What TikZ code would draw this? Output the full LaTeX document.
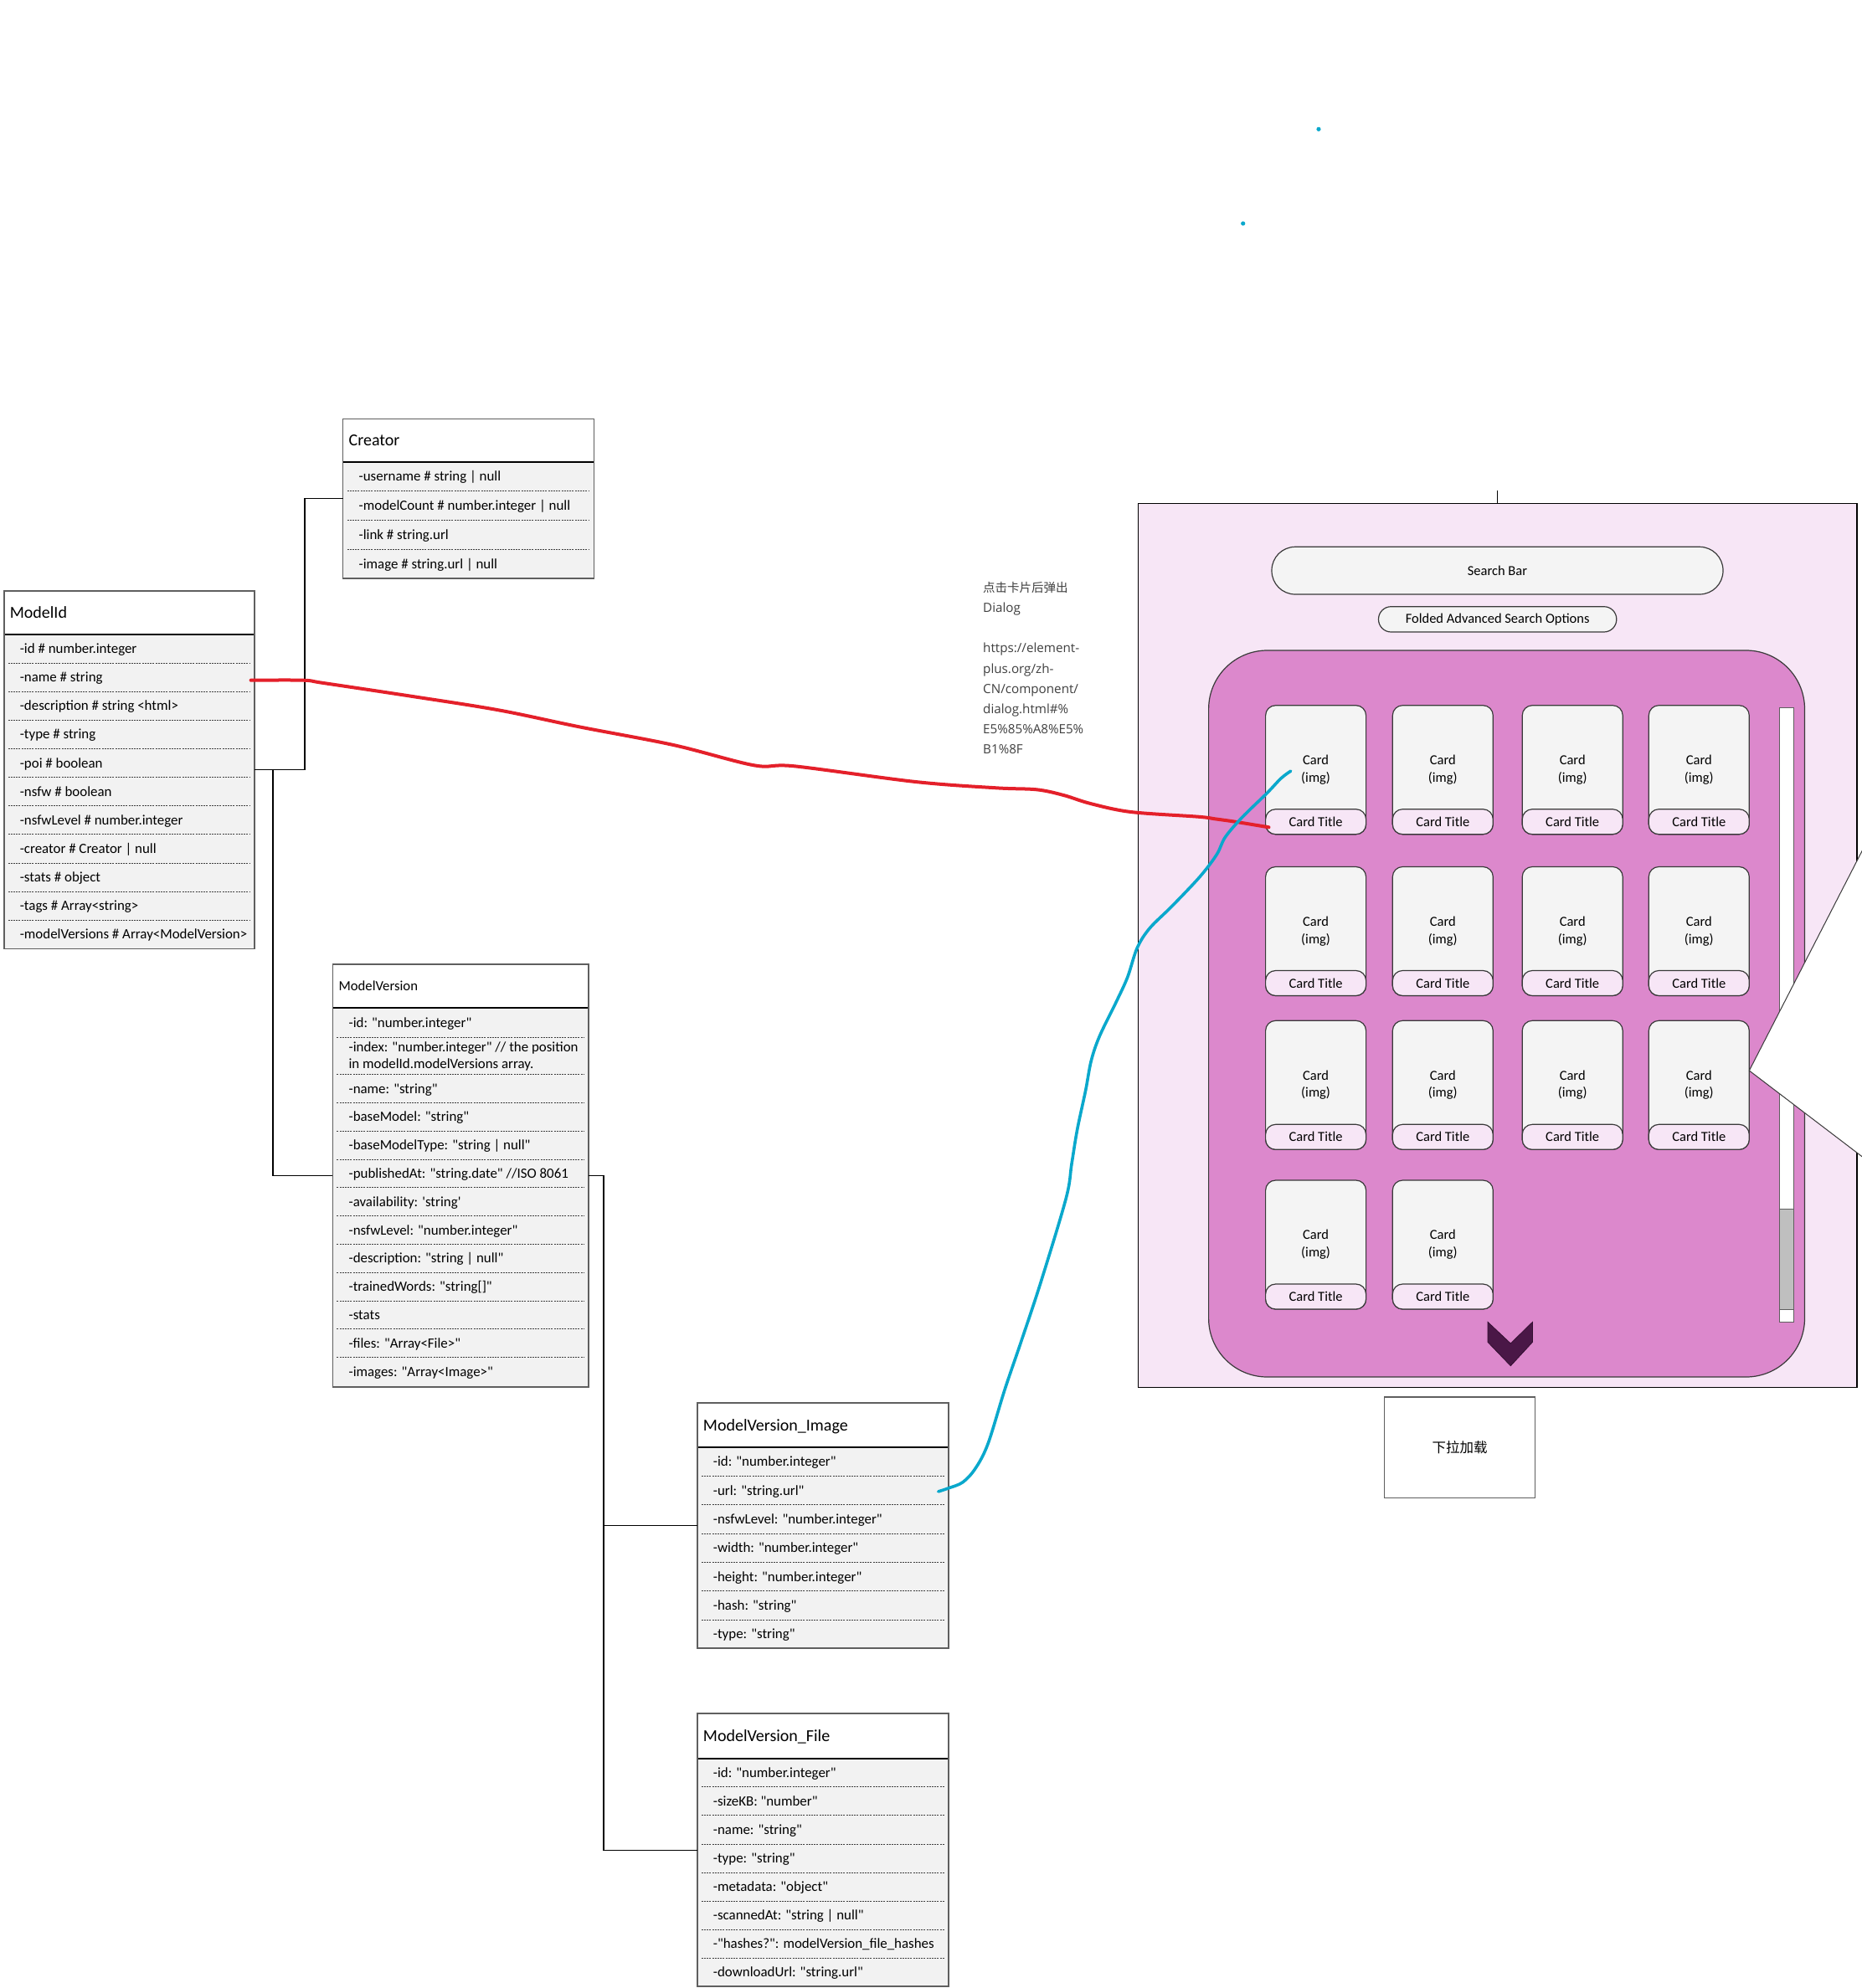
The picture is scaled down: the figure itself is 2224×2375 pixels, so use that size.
\documentclass[tikz,border=0pt]{standalone}
\usepackage{fontspec}
\setmainfont{Carlito}[Ligatures=TeXOff]
\newfontfamily\cjk{Noto Sans CJK SC}
\newfontfamily\osans{Open Sans}
\usetikzlibrary{calc}

\definecolor{framegray}{HTML}{5F5F5F}
\definecolor{bodyfill}{HTML}{F2F2F2}
\definecolor{sepgray}{HTML}{3F3F3F}
\definecolor{panelpink}{HTML}{F7E6F6}
\definecolor{orchid}{HTML}{DC88CC}
\definecolor{cardfill}{HTML}{F4F4F4}
\definecolor{cardline}{HTML}{3A3A3A}
\definecolor{chevfill}{HTML}{4A1747}
\definecolor{penred}{HTML}{E4202A}
\definecolor{penblue}{HTML}{0AA8CC}
\definecolor{notegray}{HTML}{404040}
\definecolor{thumbgray}{HTML}{BFBFBF}

\tikzset{
  classframe/.style={draw=framegray, line width=1.8pt, fill=bodyfill, inner sep=0pt, outer sep=0pt, rectangle},
  classborder/.style={draw=framegray, line width=1.8pt},
  hdrline/.style={draw=black, line width=1.8pt},
  dashsep/.style={draw=sepgray, line width=0.9pt, dash pattern=on 2pt off 1.2pt},
  rowtext/.style={anchor=base west, inner sep=0pt, font=\fontsize{16.9}{20}\selectfont},
  conn/.style={draw=black, line width=1.3pt},
  pill/.style={draw=cardline, fill=cardfill, line width=1.2pt, inner sep=0pt, outer sep=0pt, font=\fontsize{16.5}{19}\selectfont},
  cardbox/.style={draw=cardline, fill=cardfill, line width=1.2pt, rounded corners=12pt, minimum width=120pt, minimum height=154pt, inner sep=0pt, outer sep=0pt, align=center, font=\fontsize{16.5}{20.7}\selectfont},
  cardtitle/.style={draw=cardline, fill=panelpink, line width=1.2pt, rounded corners=12pt, minimum width=120pt, minimum height=30pt, inner sep=0pt, outer sep=0pt, font=\fontsize{16.5}{19}\selectfont},
  pen/.style={line width=4pt, line cap=round, line join=round},
}

\newcommand\classbox[8]{%
  \node[classframe, minimum width=#4pt, minimum height=#5pt, anchor=north west] (#1) at (#2,#3) {};
  \fill[white] (#1.north west) rectangle ($(#1.north east)+(0,#6)$);
  \node[anchor=base west, inner sep=0pt, font=\fontsize{#7}{#7}\selectfont] (#1-title) at ($(#1.north west)+(7,{#6/2+0.32*#7})$) {#8};
  \draw[hdrline] ($(#1.north west)+(0,#6)$) -- ($(#1.north east)+(0,#6)$);
}

\newcommand\classrows[5]{%
  \foreach \rowt [count=\i] in {#5}{%
    \node[rowtext] (#2-\i) at ($(#1.north west)+(19,{#3+(\i-0.5)*#4+5.4})$) {\rowt};
    \ifnum\i>1
      \draw[dashsep] ($(#1.north west)+(5,{#3+(\i-1)*#4})$) -- ($(#1.north east)+(-5,{#3+(\i-1)*#4})$);
    \fi
  }%
  \draw[classborder] (#1.north west) rectangle (#1.south east);
}

\newcommand\card[3]{%
  \node[cardbox, anchor=north west] (#1) at (#2,#3) {Card\\(img)};
  \node[cardtitle, anchor=south] (#1-t) at (#1.south) {Card Title};
}

\begin{document}
\begin{tikzpicture}[x=1pt, y=-1pt]
\useasboundingbox (0,0) rectangle (2224,2375);
\fill[white] (0,0) rectangle (2224,2375);

% ---------------- class boxes ----------------
\classbox{mi}{4.6}{705.6}{299.4}{427.8}{52.6}{20}{ModelId}
\classrows{mi}{mi}{52.6}{34.1}{-id \# number.integer,%
-name \# string,%
-description \# string <html>,%
-type \# string,%
-poi \# boolean,%
-nsfw \# boolean,%
-nsfwLevel \# number.integer,%
-creator \# Creator | null,%
-stats \# object,%
-tags \# Array<string>,%
-modelVersions \# Array<ModelVersion>}

\classbox{cr}{409.5}{500.4}{299.9}{190.6}{51.8}{20}{Creator}
\classrows{cr}{cr}{51.8}{34.7}{-username \# string | null,%
-modelCount \# number.integer | null,%
-link \# string.url,%
-image \# string.url | null}

\classbox{mv}{397.4}{1151.8}{305.3}{504.8}{52.4}{16.7}{ModelVersion}
\node[rowtext] (mv-1) at ($(mv.north west)+(19,75.55)$) {-id: "number.integer"};
\draw[dashsep] ($(mv.north west)+(5,87.9)$) -- ($(mv.north east)+(-5,87.9)$);
\node[anchor=west, inner sep=0pt, align=left, font=\fontsize{16.9}{20.3}\selectfont] (mv-2) at ($(mv.north west)+(19,110.3)$) {-index: "number.integer" // the position\\in modelId.modelVersions array.};
\draw[dashsep] ($(mv.north west)+(5,131.9)$) -- ($(mv.north east)+(-5,131.9)$);
\classrows{mv}{mvr}{131.9}{33.8}{-name: "string",%
-baseModel: "string",%
-baseModelType: "string | null",%
-publishedAt: "string.date" //ISO 8061,%
-availability: \textquotesingle string\textquotesingle,%
-nsfwLevel: "number.integer",%
-description: "string | null",%
-trainedWords: "string[]",%
-stats,%
-files: "Array<File>",%
-images: "Array<Image>"}

\classbox{img}{832.7}{1676}{300}{293.3}{53.3}{20}{ModelVersion\_Image}
\classrows{img}{img}{53.3}{34.3}{-id: "number.integer",%
-url: "string.url",%
-nsfwLevel: "number.integer",%
-width: "number.integer",%
-height: "number.integer",%
-hash: "string",%
-type: "string"}

\classbox{file}{832.7}{2047.3}{300}{326}{53.4}{20}{ModelVersion\_File}
\classrows{file}{file}{53.4}{34.1}{-id: "number.integer",%
-sizeKB: "number",%
-name: "string",%
-type: "string",%
-metadata: "object",%
-scannedAt: "string | null",%
-"hashes?": modelVersion\_file\_hashes,%
-downloadUrl: "string.url"}

% ---------------- connectors ----------------
\draw[conn] (mi.east) -- ++(60,0) |- (cr.west);
\draw[conn] (mi.east) -- ++(22,0) |- (mv.west);
\draw[conn] (mv.east) -- ++(18.3,0) |- (img.west);
\draw[conn] (mv.east) -- ++(18.3,0) |- (file.west);

% ---------------- note ----------------
\node[anchor=north west, inner sep=0pt, align=left, text=notegray, font=\osans\fontsize{15.2}{24.2}\selectfont] (note) at (1174,695) {{\cjk\fontsize{14.5}{24.2}\selectfont 点击卡片后弹出}\\Dialog\\[24.2pt]https://element-\\plus.org/zh-\\CN/component/\\dialog.html\#\%\\E5\%85\%A8\%E5\%\\B1\%8F};

% ---------------- UI panel ----------------
\node[draw=black, line width=1.5pt, fill=panelpink, minimum width=858.5pt, minimum height=1055.6pt, anchor=north west, inner sep=0pt, outer sep=0pt] (panel) at (1359.5,601.7) {};
\draw[conn] (panel.north) -- ++(0,-15.7);

\node[pill, minimum width=539pt, minimum height=56.7pt, rounded corners=28pt] (search) at (1788.5,681.65) {Search Bar};
\node[pill, minimum width=284.3pt, minimum height=30.3pt, rounded corners=15pt] (folded) at (1788.65,739.85) {Folded Advanced Search Options};

\node[draw=cardline, fill=orchid, line width=1.2pt, rounded corners=70pt, minimum width=711.9pt, minimum height=868pt, anchor=north west, inner sep=0pt, outer sep=0pt] (feed) at (1443.6,777) {};

\foreach \cy [count=\ri] in {842.7,1035.5,1219.3}{
  \foreach \cx [count=\ci] in {1511.6,1663.3,1818.2,1969.3}{
    \card{c\ri\ci}{\cx}{\cy}
  }
}
\card{c41}{1511.6}{1410}
\card{c42}{1663.3}{1410}

\node[draw=framegray, fill=white, line width=1pt, minimum width=17.7pt, minimum height=734pt, anchor=north west, inner sep=0pt, outer sep=0pt] (scroll) at (2125,845) {};
\node[draw=framegray, fill=thumbgray, line width=1pt, minimum width=17.7pt, minimum height=119.7pt, anchor=north west, inner sep=0pt, outer sep=0pt] (thumb) at (2125,1444.3) {};

\filldraw[fill=chevfill, draw=chevfill!70!black, line width=0.8pt] (1777,1579.3) -- (1804.3,1605) -- (1830.5,1579.3) -- (1830.5,1603.3) -- (1804.3,1631.7) -- (1777,1603.3) -- cycle;

\filldraw[fill=white, draw=cardline, line width=1pt] (2240,985.5) -- (2089.3,1279) -- (2240,1393.9) -- cycle;

\node[draw=framegray, fill=white, line width=1.3pt, minimum width=179.5pt, minimum height=120.3pt, inner sep=0pt, font=\cjk\fontsize{16.5}{19}\selectfont] (load) at (1743.55,1729.15) {下拉加载};

% ---------------- pen strokes ----------------
\coordinate (redstart) at (299.6,812.7);
\coordinate (redend) at (1515.5,988.3);
\draw[pen, penred] plot[smooth, tension=0.55] coordinates {(redstart) (362.3,812.7) (386.4,816) (490.9,831.7) (595.4,848.3) (691.8,868.3) (804.3,890) (900.7,914.3) (948.9,915.3) (1093.6,934) (1190,941.3) (1238.2,943.3) (1270.4,950) (1302.5,960) (1350.7,970) (1431.1,975.7) (1451.2,978.3) (1475.3,981.7) (redend)};

\coordinate (bluestart) at (1120.7,1781.9);
\coordinate (blueend) at (1541.7,921.1);
\draw[pen, penblue, line width=3.6pt] plot[smooth, tension=0.55] coordinates {(bluestart) (1133.3,1777.7) (1150,1770.7) (1165,1754.3) (1180,1724.9) (1200,1660.4) (1220,1601.7) (1243.3,1531.3) (1273.3,1431.5) (1280,1390.5) (1286.7,1349.4) (1296.7,1302.5) (1303.3,1267.3) (1313.3,1237.9) (1333.3,1196.8) (1346.7,1167.5) (1358.3,1132.3) (1373.3,1108.8) (1400,1082.4) (1433.3,1047.2) (1453.3,1020.8) (1463.3,1000.3) (1483.3,976.8) (1513.3,947.5) (1530,929.9) (blueend)};

\fill[penblue] (1575,154.3) circle (2.6pt);
\fill[penblue] (1484.7,267) circle (2.6pt);
\end{tikzpicture}
\end{document}
